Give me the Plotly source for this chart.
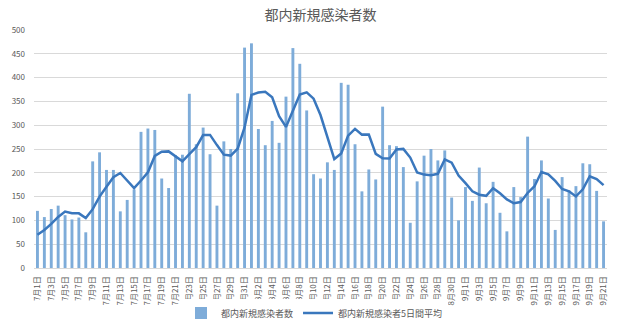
import plotly.graph_objects as go

# Category labels (dates 7/1 .. 9/21)
months = [7] * 31 + [8] * 31 + [9] * 21
days = list(range(1, 32)) + list(range(1, 32)) + list(range(1, 22))
categories = [f"{m}月{d}日" for m, d in zip(months, days)]

# Daily new cases (bars)
cases = [
    120, 107, 124, 131, 111, 102, 106, 75, 224, 243, 206, 206, 119, 143, 165, 286,
    293, 290, 188, 168, 237, 238, 366, 260, 295, 239, 131, 266, 250, 367, 463,
    472, 292, 258, 309, 263, 360, 462, 429, 331, 197, 188, 222, 206, 389, 385,
    260, 161, 207, 186, 339, 258, 256, 212, 95, 182, 236, 250, 226, 247, 148, 100,
    170, 141, 211, 136, 181, 116, 77, 170, 149, 276, 187, 226, 146, 80, 191, 163,
    172, 220, 218, 162, 98,
]

# 5-day average (line)
avg5 = [
    69.8, 79.8, 92.6, 107.2, 118.6, 115.0, 114.8, 105.0, 123.6, 150.0, 170.8, 190.8,
    199.6, 183.4, 167.8, 183.8, 201.2, 235.4, 244.4, 245.0, 235.2, 224.2, 239.4,
    253.8, 279.2, 279.6, 258.2, 238.2, 236.2, 250.6, 295.4,
    363.6, 368.8, 370.4, 358.8, 318.8, 296.4, 330.4, 364.6, 369.0, 355.8, 321.4,
    273.4, 228.8, 240.4, 278.0, 292.4, 280.2, 280.4, 239.8, 230.6, 230.2, 249.2,
    250.2, 232.0, 200.6, 196.2, 195.0, 197.8, 228.2, 221.4, 194.2,
    178.2, 161.2, 154.0, 151.6, 167.8, 157.0, 144.2, 136.0, 138.6, 157.6, 171.8,
    201.6, 196.8, 183.0, 166.0, 161.2, 150.4, 165.2, 192.8, 187.0, 174.0,
]

y_ticks = list(range(0, 501, 50))

FONT = "Noto Sans CJK JP"
GRAY = "#595959"

fig = go.Figure()
fig.add_trace(go.Bar(
    x=categories, y=cases, name="都内新規感染者数",
    marker=dict(color="#7eacd9", line=dict(width=0)),
))
fig.add_trace(go.Scatter(
    x=categories, y=avg5, name="都内新規感染者5日間平均", mode="lines",
    line=dict(color="#3a77bd", width=2.5),
))

fig.update_layout(
    width=629, height=329,
    margin=dict(l=34, r=22, t=30, b=61, autoexpand=False),
    paper_bgcolor="white", plot_bgcolor="white",
    font=dict(family=FONT, color=GRAY, size=8),
    title=dict(text="都内新規感染者数", x=0.5, xref="paper", xanchor="center",
               y=1 - 15 / 329, yref="container", yanchor="middle",
               font=dict(size=14, color=GRAY, family=FONT)),
    bargap=0.58,
    showlegend=True,
    legend=dict(orientation="h", xref="container", x=0.5, xanchor="center",
                yref="container", y=1 - 313 / 329, yanchor="middle",
                font=dict(size=9, color=GRAY, family=FONT),
                itemwidth=30, tracegroupgap=0),
)
fig.update_xaxes(
    type="category", categoryorder="array", categoryarray=categories,
    tickvals=categories[::2], ticktext=categories[::2],
    tickangle=-90, tickfont=dict(size=8, color=GRAY),
    showgrid=False, showline=True, linecolor="#d9d9d9", linewidth=1,
    ticks="", ticklabelstandoff=4, automargin=False,
    range=[-0.5, len(categories) - 0.5],
)
fig.update_yaxes(
    range=[0, 500], tickvals=y_ticks, tickfont=dict(size=8, color=GRAY),
    showgrid=True, gridcolor="#d9d9d9", gridwidth=1,
    zeroline=False, showline=False, ticks="", ticklabelstandoff=8,
    automargin=False,
)

fig.write_html("out.html")
